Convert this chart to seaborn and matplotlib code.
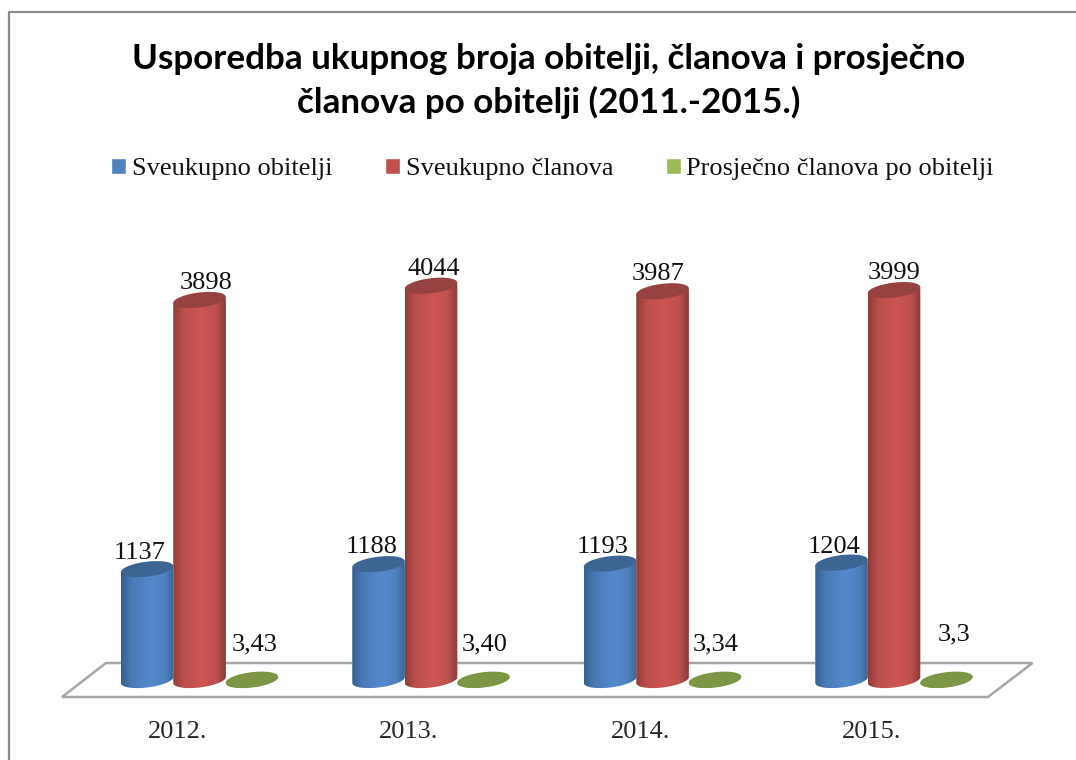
import numpy as np
import pandas as pd
import matplotlib
matplotlib.use('Agg')
import matplotlib.pyplot as plt
import matplotlib.transforms as mtransforms
from matplotlib.colors import LinearSegmentedColormap
from matplotlib.lines import Line2D
from matplotlib.patches import PathPatch, Polygon
from matplotlib.path import Path
import seaborn as sns

# Data
years = ['2012.', '2013.', '2014.', '2015.']
families = [1137, 1188, 1193, 1204]
members = [3898, 4044, 3987, 3999]
average = [3.43, 3.40, 3.34, 3.3]
average_labels = ['3,43', '3,40', '3,34', '3,3']
series_names = ['Sveukupno obitelji', 'Sveukupno članova', 'Prosječno članova po obitelji']
series_colors = ['#4f81bd', '#c0504d', '#9bbb59']

title_text = 'Usporedba ukupnog broja obitelji, članova i prosječno\nčlanova po obitelji (2011.-2015.)'

df = pd.DataFrame({
    'godina': years * 3,
    'serija': np.repeat(series_names, 4),
    'vrijednost': families + members + average,
})

W, H = 1076, 760
sns.set_theme(style='white')
plt.rcParams['font.family'] = ['Liberation Serif', 'DejaVu Serif']
plt.rcParams['text.color'] = '#111111'


def fx(px):
    return px / W


def fy(py):
    return 1 - py / H


fig = plt.figure(figsize=(W / 100, H / 100), dpi=100, facecolor='white')
# x axis spans 4 groups of 231.5 px, value 0 sits at y=680 px
ax = fig.add_axes([fx(83.75), fy(700), 926 / W, 460 / H])
ax.patch.set_alpha(0)

sns.barplot(data=df, x='godina', y='vrijednost', hue='serija', palette=series_colors,
            width=0.68, ax=ax, saturation=1)

ymin, ymax = -205, 4513
px_per_unit = 460 / (ymax - ymin)
rim_h = 7.5 / px_per_unit   # half height of the ellipse
rim_tilt = 3 / px_per_unit  # right side sits higher than the left

# Chart frame: only top and left lines exist in the picture
fig.add_artist(Line2D([fx(8.5), fx(8.5), 1], [0, fy(11.5), fy(11.5)], color='#8c8c8c', lw=1.6,
                      transform=fig.transFigure))
# Floor of the 3D plot, behind the axes
floor = [(62, 697), (106, 663), (1032.5, 663), (988, 697)]
fig.add_artist(Polygon([(fx(a), fy(b)) for a, b in floor], closed=True, fc='white', ec='#a6a6a6',
                       lw=1.8, transform=fig.transFigure, zorder=-1))

shades = [
    LinearSegmentedColormap.from_list('plava', [(0, '#35608f'), (0.2, '#4a7ab6'), (0.55, '#5389cc'),
                                                (0.82, '#4f82c0'), (1, '#3c6797')]),
    LinearSegmentedColormap.from_list('crvena', [(0, '#8f3d3a'), (0.2, '#bb4f4c'), (0.55, '#cd5553'),
                                                 (0.82, '#bd504d'), (1, '#893937')]),
    LinearSegmentedColormap.from_list('zelena', ['#7d9645', '#7d9645']),
]
cap_colors = ['#3d6594', '#964240', '#7d9645']
grad = np.linspace(0, 1, 256).reshape(1, -1)
t_low = np.linspace(np.pi, 2 * np.pi, 60)
t_full = np.linspace(0, 2 * np.pi, 120)

# pixel offsets of value labels from the top of each bar
label_dx = [[-7, -7, -7, -7], [7, 3, -4, 0], [3, 1, 1, 8]]
label_dy = [[16, 17, 17, 16], [17, 17, 17, 17], [35, 35, 35, 45]]
texts = [[str(v) for v in families], [str(v) for v in members], average_labels]

for s, container in enumerate(ax.containers):
    for b, bar in enumerate(container):
        x0, w, h = bar.get_x(), bar.get_width(), bar.get_height()
        cx, rx = x0 + w / 2, w / 2
        # cylinder outline: left side, bottom arc, right side
        low = np.column_stack([cx + rx * np.cos(t_low), rim_h * np.sin(t_low) + rim_tilt * np.cos(t_low)])
        verts = np.vstack([[[x0, h - rim_tilt]], low, [[x0 + w, h + rim_tilt]]])
        body = PathPatch(Path(np.vstack([verts, verts[:1]]), closed=True), fc='none', ec='none',
                         transform=ax.transData)
        ax.add_patch(body)
        bar.set_clip_path(body)
        im = ax.imshow(grad, extent=[x0, x0 + w, -200, h + 100], aspect='auto', cmap=shades[s],
                       zorder=3 + s)
        im.set_clip_path(body)
        cap = np.column_stack([cx + rx * np.cos(t_full),
                               h + rim_h * np.sin(t_full) + rim_tilt * np.cos(t_full)])
        ax.add_patch(Polygon(cap, closed=True, fc=cap_colors[s], ec='none', zorder=3 + s + 0.5))
        ax.annotate(texts[s][b], xy=(cx, h), xytext=(label_dx[s][b], label_dy[s][b]),
                    textcoords='offset pixels', ha='center', va='center', fontsize=19, zorder=10)

ax.set_xlim(-0.5, 3.5)
ax.set_ylim(ymin, ymax)
ax.set_xlabel('')
ax.set_ylabel('')
ax.set_yticks([])
ax.tick_params(axis='x', length=0, pad=15, labelsize=19)
sns.despine(ax=ax, left=True, bottom=True)

# category labels sit left of the bars because of the 3D view
shift = mtransforms.ScaledTranslation(-22 / 100, 0, fig.dpi_scale_trans)
for lab in ax.get_xticklabels():
    lab.set_transform(lab.get_transform() + shift)

sns.move_legend(ax, loc='center', bbox_to_anchor=(fx(552.5), fy(169)), bbox_transform=fig.transFigure,
                ncols=3, title=None, frameon=False, fontsize=19, handlelength=0.58, handleheight=0.58,
                handletextpad=0.2, columnspacing=2.0, borderpad=0, borderaxespad=0)

fig.suptitle(title_text, x=fx(549), y=fy(81), va='center', ha='center', fontsize=25.2,
             fontweight='bold', family='Lato', color='black', linespacing=1.42)

fig.savefig('out.png', dpi=100)
